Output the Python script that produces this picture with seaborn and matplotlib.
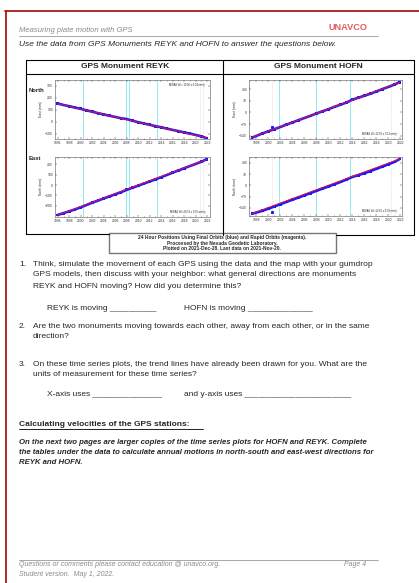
# GPS 工作單頁面：REYK 與 HOFN 時間序列（四小圖）加上題目文字

import matplotlib
matplotlib.use("Agg")
import matplotlib.pyplot as plt
import seaborn as sns
import pandas as pd
from matplotlib.lines import Line2D
from matplotlib.patches import Rectangle

sns.set_style("ticks")
plt.rcParams['font.family'] = ['Liberation Sans', 'DejaVu Sans']

W, H = 419, 583

# ---- 資料 ----
reyk_years = [1996, 1997, 1998, 1999, 2000, 2001, 2002, 2003, 2004, 2005, 2006,
              2007, 2008, 2009, 2010, 2011, 2012, 2013, 2014, 2015, 2016, 2017,
              2018, 2019, 2020, 2021, 2021.9]
reyk_top = [152, 140, 130, 118, 108, 95, 84, 72, 61, 50, 40, 29, 22, 8, -4, -15,
            -26, -37, -47, -58, -69, -79, -90, -100, -111, -123, -138]
reyk_bottom = [-285, -268, -250, -232, -212, -190, -168, -148, -128, -108, -88,
               -68, -46, -26, -6, 14, 34, 54, 75, 96, 118, 139, 160, 181, 201,
               222, 245]
reyk_top_trend = [150, -135]
reyk_bottom_trend = [-287, 243]

hofn_years = [1997.3, 1999, 2000, 2001, 2002, 2003, 2004, 2005, 2006, 2007, 2008,
              2009, 2010, 2011, 2012, 2013, 2014, 2015, 2016, 2017, 2018, 2019,
              2020, 2021, 2021.9]
hofn_top = [-152, -127, -114, -101, -88, -74, -61, -47, -34, -21, -7, 6, 19, 33,
            46, 59, 76, 88, 100, 112, 126, 140, 153, 167, 182]
hofn_bottom = [-176, -158, -145, -131, -117, -103, -89, -76, -62, -48, -34, -20,
               -7, 7, 21, 36, 53, 64, 76, 89, 103, 117, 131, 146, 164]
hofn_top_trend = [-150, 180]
hofn_bottom_trend = [-175, 165]
hofn_top_outlier = [2000.7, -86]
hofn_bottom_outlier = [2000.7, -165]

reyk_events = [2000.4, 2007.9, 2008.4, 2013.3]
hofn_events = [2001.8, 2008.0, 2013.7]

fig = plt.figure(figsize=(W / 100, H / 100), dpi=100)
fig.patch.set_facecolor("white")


def add_text(x, y, s, **kw):
    kw.setdefault("va", "center")
    fig.text(x / W, 1 - y / H, s, **kw)


def line(x0, y0, x1, y1, **kw):
    fig.add_artist(Line2D([x0 / W, x1 / W], [1 - y0 / H, 1 - y1 / H], **kw))


def make_axes(x0, y0, x1, y1):
    return fig.add_axes([x0 / W, 1 - y1 / H, (x1 - x0) / W, (y1 - y0) / H])


def draw_panel(box, years, values, trend, ylim, xlim, xticks, yticks, ylabel,
               events, dotted, midas, midas_top, outlier=None):
    ax = make_axes(*box)
    for ev in events:
        ax.axvline(ev, color="#7fe8f0", lw=0.6, zorder=0)
    for ev in dotted:
        ax.axvline(ev, color="#cccccc", lw=0.5, ls=":", zorder=0)
    df = pd.DataFrame({"year": years, "mm": values})
    sns.lineplot(data=df, x="year", y="mm", color="#1a1aff", lw=1.9, ax=ax)
    sns.scatterplot(data=df, x="year", y="mm", color="#1a1aff", s=4,
                    marker="s", edgecolor="none", ax=ax)
    if outlier is not None:
        ax.plot(outlier[0], outlier[1], "s", color="#1a1aff", ms=1.2)
    tdf = pd.DataFrame({"year": [years[0], years[-1]], "mm": trend})
    sns.lineplot(data=tdf, x="year", y="mm", color="#ee1133", lw=0.7, ax=ax)
    ax.set_xlim(*xlim)
    ax.set_ylim(*ylim)
    ax.set_xticks(xticks)
    ax.set_xticklabels([str(t) for t in xticks])
    ax.set_xticks(range(int(xlim[0]) + 1, int(xlim[1]) + 1), minor=True)
    ax.set_yticks(yticks)
    ax.tick_params(axis="both", which="both", direction="in", labelsize=2.4,
                   length=1.2, width=0.3, top=True, right=True, pad=1.5,
                   labelcolor="#333333")
    ax.tick_params(which="minor", length=0.7)
    ax.set_xlabel("")
    ax.set_ylabel(ylabel, fontsize=2.4, labelpad=2, color="#333333")
    for sp in ax.spines.values():
        sp.set_linewidth(0.4)
        sp.set_color("#555555")
    yy = 0.95 if midas_top else 0.05
    ax.text(0.97, yy, midas, transform=ax.transAxes, fontsize=1.8,
            ha="right", va="top" if midas_top else "bottom", color="#222222")
    return ax


# ---- 頁面外框（紅線） ----
line(5, 11, W, 11, color="#a51b1b", lw=1.3)
line(6, 11, 6, H, color="#a51b1b", lw=1.3)

# ---- 頁首 ----
add_text(19, 31, "Measuring plate motion with GPS", fontsize=5.5,
         style="italic", color="#8a8a8a")
line(19, 36, 378, 36, color="#999999", lw=0.6)
add_text(328, 28, "UNAVCO", fontsize=6.6, weight="bold", color="#e05c5c")
add_text(19, 45, "Use the data from GPS Monuments REYK and HOFN to answer the "
         "questions below.", fontsize=6.05, style="italic")

# ---- 表格框線 ----
lk = dict(color="black", lw=0.8)
line(26, 60, 414, 60, **lk)
line(26, 74, 414, 74, **lk)
line(26, 60, 26, 234, **lk)
line(414, 60, 414, 235, **lk)
line(223, 60, 223, 235, **lk)
line(26, 234, 109, 234, **lk)
line(336, 235, 414, 235, **lk)
add_text(125, 67, "GPS Monument REYK", fontsize=6.0, weight="bold", ha="center")
add_text(318, 67, "GPS Monument HOFN", fontsize=6.0, weight="bold", ha="center")
add_text(29, 90, "North", fontsize=4.2, weight="bold")
add_text(29, 158, "East", fontsize=4.2, weight="bold")

reyk_xt = list(range(1996, 2023, 2))
hofn_xt = list(range(1998, 2023, 2))
draw_panel((55, 80, 210, 139), reyk_years, reyk_top, reyk_top_trend,
           (-145, 350), (1995.5, 2022.5), reyk_xt, [-100, 0, 100, 200, 300],
           "East (mm)", reyk_events, [2020.8, 2021.3],
           "MIDAS Vel=-10.86 \u00b1 0.04 mm/yr", True)
draw_panel((55, 157, 210, 217), reyk_years, reyk_bottom, reyk_bottom_trend,
           (-305, 267), (1995.5, 2022.5), reyk_xt, [-200, -100, 0, 100, 200],
           "North (mm)", reyk_events, [2020.8, 2021.3],
           "MIDAS Vel=20.52 \u00b1 0.05 mm/yr", False)
draw_panel((249, 80, 402, 139), hofn_years, hofn_top, hofn_top_trend,
           (-160, 195), (1996.8, 2022.3), hofn_xt, [-140, -70, 0, 70, 140],
           "East (mm)", hofn_events, [2000.7, 2020.5],
           "MIDAS Vel=13.06 \u00b1 0.12 mm/yr", False, hofn_top_outlier)
draw_panel((249, 157, 402, 216), hofn_years, hofn_bottom, hofn_bottom_trend,
           (-190, 177), (1996.8, 2022.3), hofn_xt, [-140, -70, 0, 70, 140],
           "North (mm)", hofn_events, [2000.7, 2020.5],
           "MIDAS Vel=13.61 \u00b1 0.09 mm/yr", False, hofn_bottom_outlier)

# ---- 說明框 ----
fig.add_artist(Rectangle((109 / W, 1 - 253 / H), 227 / W, 20 / H,
                         facecolor="white", edgecolor="#777777", lw=1.0))
cap = dict(fontsize=3.5, weight="bold", ha="center")
add_text(222, 238, "24 Hour Positions Using Final Orbits (blue) and Rapid "
         "Orbits (magenta).", **cap)
add_text(222, 243, "Processed by the Nevada Geodetic Laboratory.", **cap)
add_text(222, 248, "Plotted on 2021-Dec-28. Last data on 2021-Nov-20.", **cap)

# ---- 題目 ----
fs = 6.0
add_text(19, 264, "1.", fontsize=fs)
add_text(33, 264, "Think, simulate the movement of each GPS using the data and "
         "the map with your gumdrop", fontsize=fs)
add_text(33, 275, "GPS models, then discuss with your neighbor: what general "
         "directions are monuments", fontsize=fs)
add_text(33, 286, "REYK and HOFN moving? How did you determine this?",
         fontsize=fs)
add_text(47, 308, "REYK is moving __________", fontsize=fs)
add_text(184, 308, "HOFN is moving ______________", fontsize=fs)
add_text(19, 327, "2.", fontsize=fs)
add_text(33, 327, "Are the two monuments moving towards each other, away from "
         "each other, or in the same", fontsize=fs)
add_text(33, 337, "direction?", fontsize=fs)
add_text(19, 365, "3.", fontsize=fs)
add_text(33, 365, "On these time series plots, the trend lines have already been "
         "drawn for you. What are the", fontsize=fs)
add_text(33, 375, "units of measurement for these time series?", fontsize=fs)
add_text(47, 394, "X-axis uses _______________", fontsize=fs)
add_text(184, 394, "and y-axis uses _______________________", fontsize=fs)

add_text(19, 424, "Calculating velocities of the GPS stations:", fontsize=fs,
         weight="bold")
line(19, 428.5, 203, 428.5, color="black", lw=0.6)
para = dict(fontsize=5.6, style="italic", weight="bold")
add_text(19, 443, "On the next two pages are larger copies of the time series "
         "plots for HOFN and REYK. Complete", **para)
add_text(19, 453, "the tables under the data to calculate annual motions in "
         "north-south and east-west directions for", **para)
add_text(19, 463, "REYK and HOFN.", **para)

# ---- 頁尾 ----
line(19, 560, 378, 560, color="#999999", lw=0.6)
foot = dict(fontsize=5.0, style="italic", color="#8a8a8a")
add_text(19, 565, "Questions or comments please contact education @ unavco.org.",
         **foot)
add_text(344, 565, "Page 4", **foot)
add_text(19, 574, "Student version.  May 1, 2022.", **foot)

fig.savefig("out.png", dpi=100, facecolor="white")
